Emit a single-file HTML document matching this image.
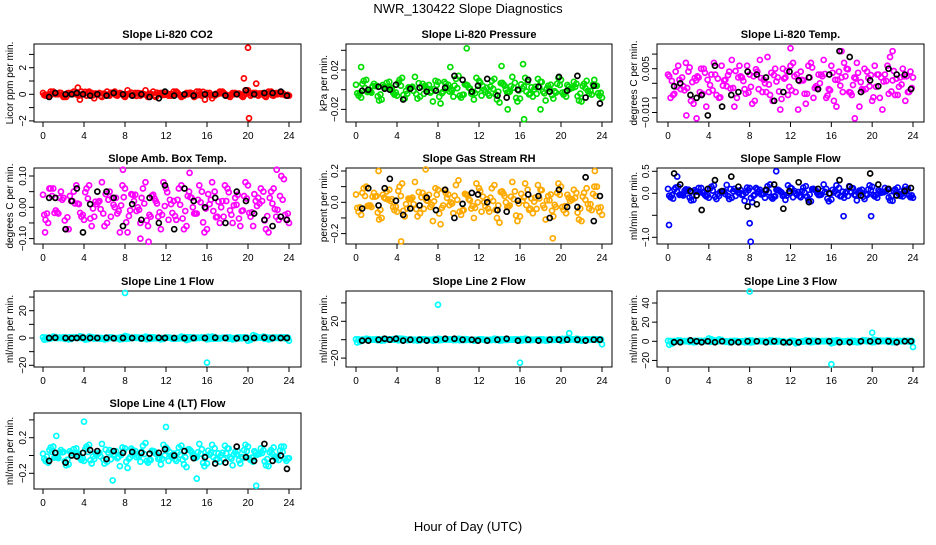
<!DOCTYPE html>
<html><head><meta charset="utf-8"><style>
body{margin:0;background:#fff;}
svg text{font-family:"Liberation Sans",sans-serif;fill:#000;}
</style></head><body>
<svg id="c" width="936" height="540" viewBox="0 0 936 540" xmlns="http://www.w3.org/2000/svg">
<text x="468" y="13" text-anchor="middle" font-size="13">NWR_130422  Slope Diagnostics</text>
<text x="468" y="531" text-anchor="middle" font-size="13">Hour of Day (UTC)</text>
</svg>
<script>
const hrsA=[0,0.5,1,1.5,2,2.5,3,3.5,4,4.5,5,5.5,6,6.5,7,7.5,8,8.5,9,9.5,10,10.5,11,11.5,12,12.5,13,13.5,14,14.5,15,15.5,16,16.5,17,17.5,18,18.5,19,19.5,20,20.5,21,21.5,22,22.5,23,23.5,24];
const hrsB=[0.25,0.75,1.25,1.75,2.25,2.75,3.25,3.75,4.25,4.75,5.25,5.75,6.25,6.75,7.25,7.75,8.25,8.75,9.25,9.75,10.25,10.75,11.25,11.75,12.25,12.75,13.25,13.75,14.25,14.75,15.25,15.75,16.25,16.75,17.25,17.75,18.25,18.75,19.25,19.75,20.25,20.75,21.25,21.75,22.25,22.75,23.25,23.75];
const hrsC=[0.12,0.62,1.12,1.62,2.12,2.62,3.12,3.62,4.12,4.62,5.12,5.62,6.12,6.62,7.12,7.62,8.12,8.62,9.12,9.62,10.12,10.62,11.12,11.62,12.12,12.62,13.12,13.62,14.12,14.62,15.12,15.62,16.12,16.62,17.12,17.62,18.12,18.62,19.12,19.62,20.12,20.62,21.12,21.62,22.12,22.62,23.12,23.62,23.9];
const hrsD=[0.38,0.88,1.38,1.88,2.38,2.88,3.38,3.88,4.38,4.88,5.38,5.88,6.38,6.88,7.38,7.88,8.38,8.88,9.38,9.88,10.38,10.88,11.38,11.88,12.38,12.88,13.38,13.88,14.38,14.88,15.38,15.88,16.38,16.88,17.38,17.88,18.38,18.88,19.38,19.88,20.38,20.88,21.38,21.88,22.38,22.88,23.38,23.88];
const hrsK=[0.6,1.2,2.2,2.8,3.3,3.9,4.6,5.3,6.2,6.9,7.8,8.7,9.6,10.4,11.3,11.9,12.8,13.8,14.7,15.8,16.8,17.8,18.9,19.8,20.6,21.6,22.4,23.2,23.8];
const xTicks=[0,4,8,12,16,20,24];

const co2A=[0.1,-0.1,0.2,0,-0.2,0.1,0.2,-0.1,0,0.2,-0.3,0.1,0,-0.1,0.2,0.1,-0.2,0,0.1,-0.1,0.3,0,-0.2,0.1,0,-0.1,0.2,-0.2,0.1,0,0.2,-0.1,0.1,-0.3,0,0.2,-0.1,0.1,0,-0.2,0.3,0.1,-0.1,0,0.2,-0.1,0.1,0,-0.1];
const co2B=[-0.1,0.2,0,0.1,-0.2,0.1,0,0.2,-0.1,0.1,0,-0.2,0.2,0.1,-0.1,0,0.3,-0.1,0.1,0,-0.2,0.2,0,0.1,-0.1,0.2,0,-0.1,0.1,-0.2,0.2,0,0.1,-0.1,0.2,0,-0.2,0.1,0,0.3,-0.1,0.1,0,-0.2,0.2,0.1,0,-0.1];
const co2K=[-0.2,0.1,0,0,0.1,0,-0.1,0,-0.1,0.1,0,-0.1,0,-0.2,-0.3,0.2,-0.1,0,-0.1,0,0,-0.1,0,0.3,0,0.1,0.1,0.2,-0.1];
const co2Out=[[20,3.5],[20.1,-1.8],[19.6,1.2],[20.8,0.8],[3.4,0.5],[3.6,-0.4],[15.8,-0.4]];

const presA=[0.005,-0.008,0.01,-0.003,0.004,-0.01,0.007,0.002,-0.006,0.012,-0.004,0.003,-0.009,0.006,0.001,-0.012,0.008,-0.002,0.005,-0.007,0.014,-0.005,0.002,-0.01,0.009,0,-0.006,0.011,-0.013,0.004,-0.002,0.007,-0.009,0.012,-0.004,0.003,0.008,-0.011,0.005,-0.003,0.01,-0.007,0.002,0.006,-0.012,0.009,-0.005,0.004,-0.008];
const presB=[-0.006,0.009,-0.002,0.006,-0.011,0.003,0.008,-0.005,0.01,-0.009,0.002,0.013,-0.007,0.004,-0.003,0.009,-0.014,0.006,0,0.011,-0.008,0.005,-0.004,0.012,-0.006,0.002,0.009,-0.01,0.007,-0.003,0.013,-0.012,0.001,0.008,-0.007,0.011,-0.002,0.004,-0.009,0.012,-0.005,0.003,0.008,-0.011,0.006,-0.004,0.01,-0.006];
const presK=[-0.001,0,0.003,0.001,0,0.005,-0.01,0.001,0.002,-0.002,-0.001,0.002,0.014,0.01,-0.002,0.004,0.011,-0.006,-0.008,0,0.01,0.003,-0.002,0.013,-0.001,0.014,-0.008,0.004,-0.014];
const presOut=[[10.8,0.042],[0.5,0.023],[16.3,0.026],[16.4,-0.03],[14.8,-0.02],[18,-0.02],[14.2,0.024],[9.2,0.023]];

const tempA=[0.003,-0.004,0.006,-0.001,0.004,-0.007,0.002,0.005,-0.003,0.007,-0.005,0.001,0.004,-0.008,0.006,-0.002,0.003,-0.006,0.008,0,-0.004,0.005,-0.009,0.002,0.006,-0.003,0.004,-0.007,0.007,-0.001,0.003,-0.005,0.006,-0.008,0.002,0.005,-0.004,0.007,-0.002,0.004,-0.006,0.003,-0.009,0.006,0.001,-0.004,0.005,-0.003,0.002];
const tempB=[-0.005,0.004,-0.002,0.007,-0.006,0.001,0.005,-0.008,0.003,-0.004,0.006,-0.001,0.008,-0.005,0.002,0.006,-0.007,0.004,-0.003,0.009,-0.006,0.002,0.005,-0.004,0.007,-0.009,0.001,0.006,-0.005,0.003,0.008,-0.002,-0.006,0.004,0.007,-0.003,0.002,-0.008,0.005,-0.001,0.006,-0.005,0.003,0.009,-0.004,0.002,-0.006,0.004];
const tempK=[-0.001,0,-0.004,-0.005,-0.004,-0.011,0.006,-0.008,-0.004,-0.003,0.004,0.003,0.002,-0.006,-0.003,0.004,0.001,0.002,-0.002,0.003,0.011,0.009,-0.003,0.001,-0.001,0.005,0.003,0.003,-0.002];
const tempOut=[[12,0.012],[17,0.011],[18.3,-0.012],[1.8,-0.011],[2.8,-0.012],[22,0.011]];

const ambA=[0.04,-0.05,0.06,-0.02,0.03,-0.07,0.05,0.01,-0.04,0.07,-0.03,0.02,-0.06,0.05,0,-0.08,0.06,-0.01,0.04,-0.05,0.08,-0.03,0.02,-0.07,0.06,0.01,-0.04,0.07,-0.06,0.03,-0.02,0.05,-0.07,0.08,-0.03,0.02,0.06,-0.05,0.04,-0.01,0.07,-0.06,0.03,0.05,-0.08,0.06,-0.04,0.09,-0.05];
const ambB=[-0.04,0.06,-0.01,0.05,-0.07,0.02,0.07,-0.03,0.06,-0.06,0.01,0.08,-0.05,0.03,-0.02,0.07,-0.08,0.04,0,0.06,-0.06,0.04,-0.03,0.08,-0.04,0.02,0.06,-0.07,0.05,-0.02,0.07,-0.08,0.01,0.05,-0.05,0.07,-0.01,0.03,-0.06,0.08,-0.03,0.02,0.06,-0.07,0.05,-0.03,0.1,-0.04];
const ambK=[0.03,0.03,-0.07,0.02,0.06,-0.08,0.01,0.05,0.05,0.03,-0.06,0.01,-0.04,0.03,-0.05,0.07,-0.07,0.06,0.02,0,0.03,-0.05,0.05,0.02,-0.02,-0.04,-0.06,-0.03,-0.04];
const ambOut=[[10.3,-0.11],[9.5,-0.1],[22.8,0.12],[7.8,0.12],[0.2,-0.08],[14.3,0.11]];

const rhA=[0.05,-0.08,0.1,-0.03,0.04,-0.1,0.07,0.02,-0.06,0.12,-0.04,0.03,-0.09,0.06,0.01,-0.12,0.08,-0.02,0.05,-0.07,0.14,-0.05,0.02,-0.1,0.09,0,-0.06,0.11,-0.13,0.04,-0.02,0.07,-0.09,0.12,-0.04,0.03,0.08,-0.11,0.05,-0.03,0.1,-0.07,0.02,0.06,-0.12,0.09,-0.05,0.1,-0.08];
const rhB=[-0.06,0.09,-0.02,0.06,-0.11,0.03,0.08,-0.05,0.1,-0.09,0.02,0.13,-0.07,0.04,-0.03,0.09,-0.14,0.06,0,0.11,-0.08,0.05,-0.04,0.12,-0.06,0.02,0.09,-0.1,0.07,-0.03,0.13,-0.12,0.01,0.08,-0.07,0.11,-0.02,0.04,-0.09,0.12,-0.05,0.03,0.08,-0.11,0.06,-0.04,0.1,-0.06];
const rhK=[-0.04,0.09,-0.02,0.09,0.15,0.01,-0.08,-0.04,-0.02,0.03,-0.05,0.08,-0.1,-0.01,0.06,0.05,0,-0.05,-0.06,0.01,0.05,0.04,-0.1,0.08,-0.03,-0.03,0.16,-0.12,0.04];
const rhOut=[[4.4,-0.25],[6.8,0.21],[19.2,-0.23],[2.2,0.2],[23.3,0.2]];

const sfA=[0.1,-0.12,0.15,-0.05,0.08,-0.15,0.12,0.03,-0.1,0.18,-0.06,0.05,-0.13,0.1,0.02,-0.17,0.12,-0.03,0.08,-0.1,0.2,-0.07,0.04,-0.15,0.13,0,-0.09,0.16,-0.18,0.06,-0.03,0.1,-0.14,0.18,-0.06,0.04,0.12,-0.16,0.08,-0.04,0.15,-0.1,0.03,0.09,-0.17,0.13,-0.07,0.1,-0.1];
const sfB=[-0.09,0.13,-0.03,0.09,-0.16,0.04,0.12,-0.07,0.15,-0.13,0.03,0.19,-0.1,0.06,-0.04,0.13,-0.2,0.09,0,0.16,-0.12,0.08,-0.06,0.18,-0.09,0.03,0.13,-0.15,0.1,-0.04,0.2,-0.18,0.02,0.12,-0.1,0.16,-0.03,0.06,-0.13,0.18,-0.07,0.04,0.12,-0.16,0.09,-0.06,0.15,-0.09];
const sfK=[0.45,0.2,0.05,-0.05,-0.38,0.1,0.3,0.05,0.38,0.15,-0.3,-0.25,0.08,0.2,-0.35,0.05,0.25,-0.2,0.1,0,0.3,0.15,-0.05,0.45,0.2,0.1,-0.05,0.05,0.12];
const sfOut=[[0.1,-0.72],[8,-0.68],[8.1,-1.1],[10.6,0.5],[17.2,-0.52],[19.9,-0.52],[0.9,0.38]];

const l1A=[0.5,-0.5,1,0,0.5,-1,0.5,0,-0.5,1,-0.5,0,-1,0.5,0,-1,1.5,0,0.5,-0.5,1,-0.5,0,-1,0.5,0,-0.5,1,-1.5,0.5,0,0.5,-1,1,-0.5,0,0.5,-1,0.5,0,-2,2,0.5,1,-1,0.5,0,0.5,-2];
const l1K=[0,0.2,0,-0.2,0,0.3,0,0,0.2,-0.2,0,0,-0.3,0,0.2,0,0,-0.1,0,0,0.2,0,-0.2,0,0,0.3,0,0,0];
const l1Out=[[8,33],[16,-18]];
const l2A=[0.5,-0.5,1,0,0.5,-1,0.5,0,1.5,1,-0.5,0,-1,0.5,0,-1,1,0,0.5,-0.5,1,-0.5,0,-1,0.5,0,-0.5,1,-1,0.5,0,0.5,-1,1,-0.5,0,0.5,-1,0.5,0,-1,1,0.5,1,-1,0.5,0,0.5,-5];
const l2K=[-1,-1,0,1,0,1,-1,0,0,-1,0,1,1,0,0,-1,-1,0,1,-1,0,-1,0,0,0,0,-1,0,0];
const l2Out=[[8,38],[16,-25],[20.8,7]];
const l3A=[0.5,-0.5,1,0,0.5,-1,0.5,0,3,1,2,0,-1,0.5,0,-1,1,0,0.5,-0.5,1,-0.5,0,-1,0.5,-2,-0.5,1,-1,0.5,0,0.5,-2,1,-0.5,0,0.5,-1,0.5,0,-1,1,0.5,1,-1,0.5,0,0.5,-6];
const l3K=[-1,-1,1,0,-1,0,-1,0,-1,-1,0,0,-1,0,-1,-1,-1,0,0,0,-1,-1,0,0,0,0,-1,0,0];
const l3Out=[[8,52],[16,-24],[20,9]];

const l4A=[0.02,-0.08,0.1,-0.03,0.04,-0.1,0.07,0.02,-0.06,0.12,-0.04,0.03,-0.09,0.06,0.01,-0.12,0.08,-0.02,0.05,-0.07,0.14,-0.05,0.02,-0.1,0.09,0,-0.06,0.11,-0.13,0.04,-0.02,0.07,-0.09,0.12,-0.04,0.03,0.08,-0.11,0.05,-0.03,0.1,-0.07,0.02,0.06,-0.12,0.09,-0.05,0.1,-0.03];
const l4B=[-0.06,0.09,-0.02,0.06,-0.11,0.03,0.08,-0.05,0.1,-0.09,0.02,0.13,-0.07,0.04,-0.03,0.09,-0.14,0.06,0,0.11,-0.08,0.05,-0.04,0.12,-0.06,0.02,0.09,-0.1,0.07,-0.03,0.13,-0.12,0.01,0.08,-0.07,0.11,-0.02,0.04,-0.09,0.12,-0.05,0.03,0.08,-0.11,0.06,-0.04,0.1,-0.06];
const l4K=[-0.06,0.03,-0.08,0,-0.01,0.03,0.06,0.05,-0.04,0.05,0.03,0.04,0.03,0.02,0.03,0.07,0,0.05,-0.03,-0.02,-0.09,-0.08,0.1,-0.02,-0.06,0.13,-0.06,0,-0.15];
const l4Out=[[4,0.38],[12,0.32],[20.8,-0.34],[6.8,-0.28],[15,-0.26],[1.3,0.22]];

const svg=document.getElementById('c');
const NS='http://www.w3.org/2000/svg';
function mk(tag,attrs,parent){const e=document.createElementNS(NS,tag);for(const k in attrs)e.setAttribute(k,attrs[k]);(parent||svg).appendChild(e);return e;}

const cols=[{bl:34,br:301,x0:43,x24:289,yt:8},{bl:346,br:612,x0:356,x24:602,yt:322},{bl:657,br:924,x0:668,x24:913,yt:632}];
const rows=[{t:44,b:122},{t:168,b:244},{t:291,b:367},{t:413,b:489}];

const panels=[
 {c:0,r:0,title:'Slope Li-820 CO2',ylab:'Licor ppm per min.',color:'#ff0000',v0:0,p0:94.3,v1:2,p1:67.7,ticks:[-2,-1,0,1,2,3],labels:[-2,0,2],fmt:v=>String(v),A:co2A,B:co2B,K:co2K,O:co2Out,name:'co2'},
 {c:1,r:0,title:'Slope Li-820 Pressure',ylab:'kPa per min.',color:'#00dd00',v0:0,p0:89.7,v1:0.02,p1:70,ticks:[-0.02,0,0.02,0.04],labels:[-0.02,0.02],fmt:v=>v.toFixed(2),A:presA,B:presB,K:presK,O:presOut,name:'pressure'},
 {c:2,r:0,title:'Slope Li-820 Temp.',ylab:'degrees C per min.',color:'#ff00ff',v0:0,p0:83.3,v1:0.005,p1:68.7,ticks:[-0.01,-0.005,0,0.005,0.01],labels:[-0.01,0.005],fmt:v=>v.toFixed(3),A:tempA,B:tempB,K:tempK,O:tempOut,name:'temp'},
 {c:0,r:1,title:'Slope Amb. Box Temp.',ylab:'degrees C per min.',color:'#ff00ff',v0:0,p0:207.3,v1:0.1,p1:176,ticks:[-0.1,-0.05,0,0.05,0.1],labels:[-0.1,0,0.1],fmt:v=>v.toFixed(2),A:ambA,B:ambB,K:ambK,O:ambOut,name:'amb-temp'},
 {c:1,r:1,title:'Slope Gas Stream RH',ylab:'percent per min.',color:'#ffaa00',v0:0,p0:202.3,v1:0.2,p1:171,ticks:[-0.2,-0.1,0,0.1,0.2],labels:[-0.2,0,0.2],fmt:v=>v.toFixed(1),A:rhA,B:rhB,K:rhK,O:rhOut,name:'rh'},
 {c:2,r:1,title:'Slope Sample Flow',ylab:'ml/min per min.',color:'#0000ff',v0:0,p0:193.3,v1:0.5,p1:171.3,ticks:[-1,-0.5,0,0.5],labels:[-1,0,0.5],fmt:v=>v.toFixed(1),A:sfA,B:sfB,K:sfK,O:sfOut,name:'sample-flow'},
 {c:0,r:2,title:'Slope Line 1 Flow',ylab:'ml/min per min.',color:'#00ffff',v0:0,p0:338,v1:20,p1:310.7,ticks:[-20,-10,0,10,20,30],labels:[-20,0,20],fmt:v=>String(v),A:l1A,B:[],K:l1K,O:l1Out,name:'line1'},
 {c:1,r:2,title:'Slope Line 2 Flow',ylab:'ml/min per min.',color:'#00ffff',v0:0,p0:339.7,v1:20,p1:321.3,ticks:[-20,0,20,40],labels:[-20,20],fmt:v=>String(v),A:l2A,B:[],K:l2K,O:l2Out,name:'line2'},
 {c:2,r:2,title:'Slope Line 3 Flow',ylab:'ml/min per min.',color:'#00ffff',v0:0,p0:341.3,v1:40,p1:303,ticks:[-20,0,20,40],labels:[-20,0,20,40],fmt:v=>String(v),A:l3A,B:[],K:l3K,O:l3Out,name:'line3'},
 {c:0,r:3,title:'Slope Line 4 (LT) Flow',ylab:'ml/min per min.',color:'#00ffff',v0:0,p0:455.5,v1:0.2,p1:437.7,ticks:[-0.2,0,0.2,0.4],labels:[-0.2,0.2],fmt:v=>v.toFixed(1),A:l4A,B:l4B,K:l4K,O:l4Out,name:'line4'}
];

panels.forEach(p=>{
 const C=cols[p.c],R=rows[p.r];
 const g=mk('g',{});
 
 
 const xs=h=>C.x0+(C.x24-C.x0)*h/24;
 const ys=v=>p.p0+(p.p1-p.p0)*(v-p.v0)/(p.v1-p.v0);
 const t=mk('text',{x:(C.bl+C.br)/2,y:R.t-6,'text-anchor':'middle','font-size':11,'font-weight':'bold'},g);
 t.textContent=p.title;
 
 
 const yl=mk('text',{transform:`translate(${C.yt+5},${(R.t+R.b)/2}) rotate(-90)`,'text-anchor':'middle','font-size':10},g);
 yl.textContent=p.ylab;
 
 
 const box=mk('rect',{x:C.bl,y:R.t,width:C.br-C.bl,height:R.b-R.t,fill:'none',stroke:'#000','stroke-width':1},g);
 
 
 xTicks.forEach(h=>{
  mk('line',{x1:xs(h),x2:xs(h),y1:R.b,y2:R.b+5,stroke:'#000'},g);
  const tl=mk('text',{x:xs(h),y:R.b+17,'text-anchor':'middle','font-size':10},g);
  tl.textContent=h;
  
  
 });
 p.ticks.forEach(v=>{
  const y=ys(v); if(y<R.t-1||y>R.b+1) return;
  mk('line',{x1:C.bl-5,x2:C.bl,y1:y,y2:y,stroke:'#000'},g);
 });
 p.labels.forEach(v=>{
  const y=ys(v);
  const tl=mk('text',{transform:`translate(${C.bl-8},${y}) rotate(-90)`,'text-anchor':'middle','font-size':10},g);
  tl.textContent=p.fmt(v).replace('-','\u2212');
  
  
 });
 const dot=(h,v,col,nm)=>{
  const e=mk('circle',{cx:xs(h),cy:ys(v),r:2.5,fill:'none',stroke:col,'stroke-width':1.7},g);
  
  
 };
 const B=p.B.length?p.B:p.A;
 const revA=p.A.slice().reverse(), revB=B.slice().reverse();
 p.A.forEach((v,i)=>{if(hrsA[i]!==undefined)dot(hrsA[i],v,p.color,'point');});
 B.forEach((v,i)=>{if(hrsB[i]!==undefined)dot(hrsB[i],v*(p.B.length?1:0.7),p.color,'point');});
 revB.forEach((v,i)=>{if(hrsC[i]!==undefined)dot(hrsC[i],v*0.6,p.color,'point');});
 revA.forEach((v,i)=>{if(hrsD[i]!==undefined)dot(hrsD[i],v*0.4,p.color,'point');});
 p.O.forEach(o=>dot(o[0],o[1],p.color,'outlier-point'));
 p.K.forEach((v,i)=>{if(hrsK[i]!==undefined)dot(hrsK[i],v,'#000','reference-point');});
});
</script>
</body></html>
